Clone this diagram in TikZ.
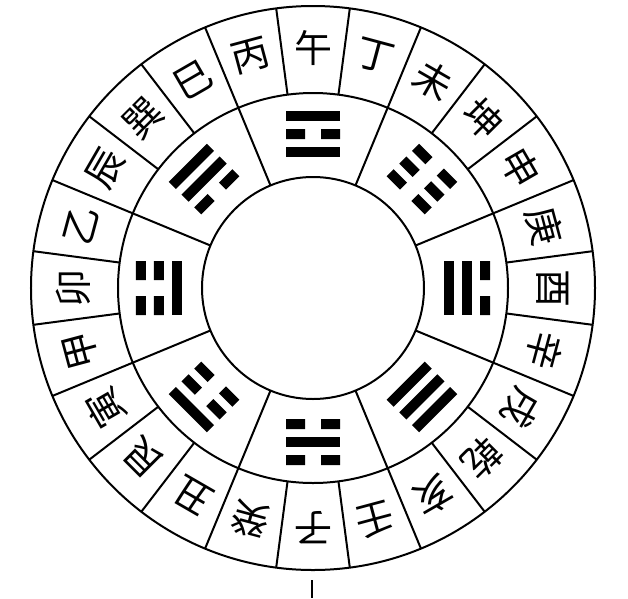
\documentclass[tikz,border=0pt]{standalone}
\usepackage{fontspec}
\newfontfamily\cjk{Noto Sans CJK SC}
\tikzset{
	ring/.style={line width=2pt},
	mountain/.style={font=\cjk\fontsize{38}{38}\selectfont, inner sep=0pt},
	yao/.style={fill=black},
}

\begin{document}
\begin{tikzpicture}[x=1pt,y=1pt]
		\useasboundingbox (-313,288) rectangle (315,-310);
		\draw[ring] (0,0) circle (282) (0,0) circle (195) (0,0) circle (111);
		\foreach \a in {0,...,23}
			\draw[ring] (97.5+15*\a:195) -- (97.5+15*\a:282);
		\foreach \a in {0,...,7}
			\draw[ring] (22.5+45*\a:111) -- (22.5+45*\a:195);
		\foreach \name [count=\i from 0] in {午,丁,未,坤,申,庚,酉,辛,戌,乾,亥,壬,子,癸,丑,艮,寅,甲,卯,乙,辰,巽,巳,丙}
			\node[mountain, rotate=-15*\i] (m\i) at (90-15*\i:240) {\name};
		\foreach \ang/\ya/\yb/\yc in {90/1/0/1, 45/0/0/0, 0/1/1/0, -45/1/1/1, -90/0/1/0, -135/0/0/1, 180/1/0/0, 135/0/1/1} {
			\begin{scope}[rotate=\ang-90]
				\foreach \y [count=\k] in {\ya,\yb,\yc} {
					\ifnum\y=1
						\fill[yao] (-27,118+18*\k-5) rectangle (27,118+18*\k+5);
					\else
						\fill[yao] (-27,118+18*\k-5) rectangle (-8,118+18*\k+5)
							(8,118+18*\k-5) rectangle (27,118+18*\k+5);
					\fi
				}
			\end{scope}
		}
		\draw[line width=1.4pt] (-1,-292) -- (-1,-310);
	\end{tikzpicture}
\end{document}
